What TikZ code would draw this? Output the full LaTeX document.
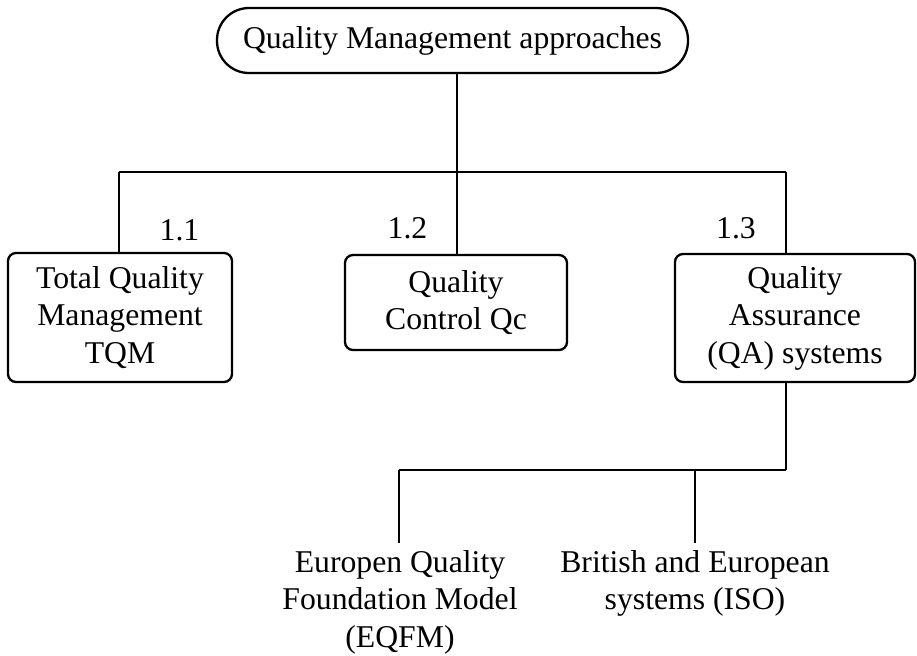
\documentclass[tikz,border=0pt]{standalone}
\usepackage{fontspec}
\setmainfont{Liberation Serif}
\begin{document}
\begin{tikzpicture}[x=0.5pt,y=-0.5pt,
  every node/.style={font=\fontsize{15.85}{18.75}\selectfont},
  pill/.style={draw, line width=1.15pt, rounded corners=16pt, minimum width=235.5pt, minimum height=32.5pt, inner sep=0pt},
  box/.style={draw, line width=1.15pt, rounded corners=4pt, align=center, inner sep=0pt},
  leaf/.style={align=center, inner sep=3.5pt},
  lbl/.style={inner sep=0pt, anchor=base},
  conn/.style={line width=0.95pt}]
\useasboundingbox (0,0) rectangle (917,655);
\node[pill] (root) at (452.5,40.5) {Quality Management approaches};
\node[box, minimum width=112pt, minimum height=64.5pt] (tqm) at (120,317.5) {Total Quality\\Management\\TQM};
\node[box, minimum width=111pt, minimum height=47.5pt] (qc) at (456,302.5) {Quality\\Control Qc};
\node[box, minimum width=120pt, minimum height=64pt] (qa) at (795,318) {Quality\\Assurance\\(QA) systems};
\node[leaf, anchor=north] (eqfm) at (400,543) {Europen Quality\\Foundation Model\\(EQFM)};
\node[leaf, anchor=north] (iso) at (695,543) {British and European\\systems (ISO)};
\node[lbl] (l11) at (179.5,240) {1.1};
\node[lbl] (l12) at (407.5,238) {1.2};
\node[lbl] (l13) at (736,238) {1.3};
\coordinate (j1) at (119,172);
\coordinate (j2) at (457,172);
\coordinate (j3) at (786,172);
\coordinate (k1) at (399,470);
\coordinate (k2) at (695,470);
\coordinate (k3) at (786,470);
\draw[conn] (root.south -| j2) -- (j2);
\draw[conn] (j1) -- (j3);
\draw[conn] (j1) -- (j1 |- tqm.north);
\draw[conn] (j2) -- (j2 |- qc.north);
\draw[conn] (j3) -- (j3 |- qa.north);
\draw[conn] (qa.south -| k3) -- (k3);
\draw[conn] (k1) -- (k3);
\draw[conn] (k1) -- (k1 |- eqfm.north);
\draw[conn] (k2) -- (k2 |- iso.north);
\end{tikzpicture}
\end{document}
